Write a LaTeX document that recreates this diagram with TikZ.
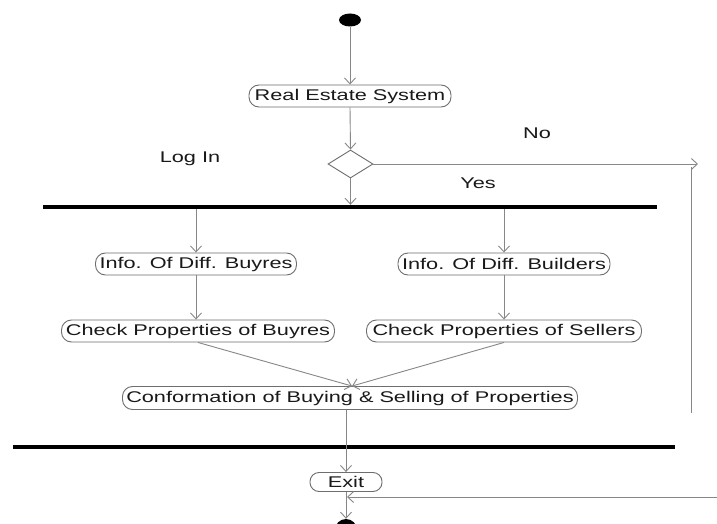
\documentclass[tikz,border=0pt]{standalone}
\usepackage{fontspec}
\setmainfont{Liberation Sans}
\usetikzlibrary{arrows.meta,shapes.geometric}
\definecolor{ln}{RGB}{135,135,135}
\definecolor{bd}{RGB}{110,110,110}
\definecolor{tx}{RGB}{25,25,25}
\newcommand{\wtxt}[1]{\scalebox{1.4}[1]{\fontsize{15.5}{18}\selectfont #1}}
\begin{document}
\begin{tikzpicture}[x=1pt,y=-1pt,
  act/.style={draw=bd,line width=0.9pt,rounded corners=10pt,inner sep=0pt,minimum height=22pt,text=tx,font=\fontsize{15}{18}\selectfont},
  lbl/.style={text=tx,inner sep=0pt},
  bar/.style={fill=black,inner sep=0pt,minimum height=4pt},
  flow/.style={draw=ln,line width=0.9pt,-{Straight Barb[length=6pt,width=11pt]}},
  plain/.style={draw=ln,line width=0.9pt}]
\clip (0,0) rectangle (717,524);
\fill[white] (0,0) rectangle (717,524);
% start and end
\node[fill=black,ellipse,minimum width=22pt,minimum height=13pt,inner sep=0pt] (start) at (350,20) {};
\node[fill=black,circle,minimum size=22pt,inner sep=0pt] (endc) at (346,530) {};
% activities
\node[act,minimum width=202pt] (res) at (350,96) {\wtxt{Real Estate System}};
\node[draw=bd,line width=0.9pt,diamond,aspect=1.6,minimum width=45pt,minimum height=28pt,inner sep=0pt] (dia) at (350.5,164) {};
\node[bar,minimum width=614pt] (fork) at (350,207) {};
\node[act,minimum width=201pt] (ib) at (196,264) {\wtxt{Info. Of Diff. Buyres}};
\node[act,minimum width=212pt] (ibl) at (504,264) {\wtxt{Info. Of Diff. Builders}};
\node[act,minimum width=273pt] (cb) at (198,331) {\wtxt{Check Properties of Buyres}};
\node[act,minimum width=275pt] (cs) at (504,331) {\wtxt{Check Properties of Sellers}};
\node[act,minimum width=455pt,minimum height=23pt] (conf) at (350,398) {\wtxt{Conformation of Buying \& Selling of Properties}};
\node[bar,minimum width=662pt] (join) at (344,447) {};
\node[act,minimum width=72pt,minimum height=19pt,rounded corners=9pt] (ex) at (346,482) {\wtxt{Exit}};
% labels
\node[lbl] (login) at (190,159) {\wtxt{Log In}};
\node[lbl] (no) at (537,133) {\wtxt{No}};
\node[lbl] (yes) at (478,183) {\wtxt{Yes}};
% free ends
\coordinate (noend) at (698,164);
\coordinate (vtop) at (691,167);
\coordinate (vbot) at (691,413);
\coordinate (rin) at (717,497);
\coordinate (rout) at (347,497);
% connectors
\draw[flow] (start) -- (res.north);
\draw[flow] (res.south) -- (dia.north);
\draw[flow] (dia.east) -- (noend);
\draw[plain] (vtop) -- (vbot);
\draw[flow] (dia.south) -- (dia.south |- fork.north);
\draw[flow] (fork.south -| ib.north) -- (ib.north);
\draw[flow] (fork.south -| ibl.north) -- (ibl.north);
\draw[flow] (ib.south) -- (ib.south |- cb.north);
\draw[flow] (ibl.south) -- (ibl.south |- cs.north);
\draw[flow] (cb.south) -- ([xshift=2pt]conf.north);
\draw[flow] (cs.south) -- ([xshift=2pt]conf.north);
\draw[flow] (conf.south -| ex.north) -- (ex.north);
\draw[flow] (ex.south) -- (endc.north);
\draw[flow] (rin) -- (rout);
\end{tikzpicture}
\end{document}
